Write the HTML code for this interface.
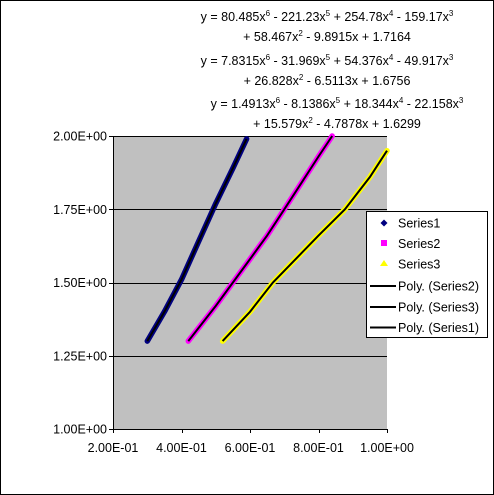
<!DOCTYPE html>
<html><head><meta charset="utf-8"><style>
body{margin:0;background:#fff}
svg{display:block;font-family:"Liberation Sans",Arial,sans-serif}
</style></head><body>
<svg width="494" height="495">
<rect x="0.5" y="0.5" width="493" height="494" fill="#fff" stroke="#000"/>
<g id="eq" font-size="12.5" fill="#000" text-anchor="middle">
<text x="327" y="21">y = 80.485x<tspan dy="-5" font-size="8">6</tspan><tspan dy="5"> - 221.23x</tspan><tspan dy="-5" font-size="8">5</tspan><tspan dy="5"> + 254.78x</tspan><tspan dy="-5" font-size="8">4</tspan><tspan dy="5"> - 159.17x</tspan><tspan dy="-5" font-size="8">3</tspan></text>
<text x="327" y="41">+ 58.467x<tspan dy="-5" font-size="8">2</tspan><tspan dy="5"> - 9.8915x + 1.7164</tspan></text>
<text x="327" y="65">y = 7.8315x<tspan dy="-5" font-size="8">6</tspan><tspan dy="5"> - 31.969x</tspan><tspan dy="-5" font-size="8">5</tspan><tspan dy="5"> + 54.376x</tspan><tspan dy="-5" font-size="8">4</tspan><tspan dy="5"> - 49.917x</tspan><tspan dy="-5" font-size="8">3</tspan></text>
<text x="327" y="85">+ 26.828x<tspan dy="-5" font-size="8">2</tspan><tspan dy="5"> - 6.5113x + 1.6756</tspan></text>
<text x="337" y="108">y = 1.4913x<tspan dy="-5" font-size="8">6</tspan><tspan dy="5"> - 8.1386x</tspan><tspan dy="-5" font-size="8">5</tspan><tspan dy="5"> + 18.344x</tspan><tspan dy="-5" font-size="8">4</tspan><tspan dy="5"> - 22.158x</tspan><tspan dy="-5" font-size="8">3</tspan></text>
<text x="337" y="128">+ 15.579x<tspan dy="-5" font-size="8">2</tspan><tspan dy="5"> - 4.7878x + 1.6299</tspan></text>
</g>
<g id="plot"></g>
<g font-size="12.5">
<rect x="366.5" y="211.5" width="121" height="126" fill="#fff" stroke="#000"/>
<path d="M384 219.5 l3.5 3.5 -3.5 3.5 -3.5 -3.5z" fill="#000080"/>
<text x="398" y="227.5">Series1</text>
<rect x="381" y="240" width="6" height="6" fill="#ff00ff"/>
<text x="398" y="248">Series2</text>
<path d="M384 260 l4 6 h-8z" fill="#ffff00"/>
<text x="398" y="268.5">Series3</text>
<line x1="370" y1="286" x2="396" y2="286" stroke="#000" stroke-width="2"/>
<text x="398" y="290.5">Poly. (Series2)</text>
<line x1="370" y1="307" x2="396" y2="307" stroke="#000" stroke-width="2"/>
<text x="398" y="311.5">Poly. (Series3)</text>
<line x1="370" y1="327.5" x2="396" y2="327.5" stroke="#000" stroke-width="2"/>
<text x="398" y="332">Poly. (Series1)</text>
</g>
</svg>
<script>
const xTicks=[0.2,0.4,0.6,0.8,1.0];
const xTickLabels=["2.00E-01","4.00E-01","6.00E-01","8.00E-01","1.00E+00"];
const yTicks=[1.0,1.25,1.5,1.75,2.0];
const yTickLabels=["1.00E+00","1.25E+00","1.50E+00","1.75E+00","2.00E+00"];
const s1x=[0.30,0.35,0.40,0.45,0.50,0.55,0.59];
const s1y=[1.30,1.40,1.51,1.64,1.77,1.89,1.99];
const s2x=[0.42,0.50,0.55,0.60,0.65,0.70,0.75,0.80,0.84];
const s2y=[1.30,1.42,1.50,1.58,1.66,1.75,1.84,1.93,2.00];
const s3x=[0.52,0.60,0.667,0.75,0.80,0.877,0.95,1.0];
const s3y=[1.30,1.40,1.50,1.60,1.66,1.75,1.86,1.95];
const X0=113,X1=387,Y0=429,Y1=136;
const sx=v=>X0+(v-0.2)/0.8*(X1-X0);
const sy=v=>Y0-(v-1)/1*(Y0-Y1);
const NS="http://www.w3.org/2000/svg";
const g=document.getElementById('plot');
function mk(t,a){const e=document.createElementNS(NS,t);for(const k in a)e.setAttribute(k,a[k]);g.appendChild(e);return e;}
const bg=mk('rect',{x:X0,y:Y1,width:X1-X0,height:Y0-Y1,fill:'#c0c0c0'});


yTicks.forEach((t,i)=>{
 if(i>0){const l=mk('line',{x1:X0,x2:X1,y1:Math.round(sy(t))+0.5,y2:Math.round(sy(t))+0.5,stroke:'#000'});
 
 }
 mk('line',{x1:X0-4,x2:X0,y1:Math.round(sy(t))+0.5,y2:Math.round(sy(t))+0.5,stroke:'#000'});
 const tx=mk('text',{x:X0-6,y:sy(t)+4.5,'font-size':12.5,'text-anchor':'end'});tx.textContent=yTickLabels[i];
 
 
});
xTicks.forEach((t,i)=>{
 mk('line',{x1:Math.round(sx(t))+0.5,x2:Math.round(sx(t))+0.5,y1:Y0,y2:Y0+4,stroke:'#000'});
 const tx=mk('text',{x:sx(t),y:Y0+23,'font-size':12.5,'text-anchor':'middle'});tx.textContent=xTickLabels[i];
 
 
});
mk('line',{x1:X0+0.5,x2:X0+0.5,y1:Y1,y2:Y0,stroke:'#000'});
mk('line',{x1:X0,x2:X1,y1:Y0+0.5,y2:Y0+0.5,stroke:'#000'});
const ser=[[s1x,s1y,'#000080','series1'],[s2x,s2y,'#ff00ff','series2'],[s3x,s3y,'#ffff00','series3']];
ser.forEach(([xs,ys,c,n])=>{
 const d=xs.map((x,i)=>(i?'L':'M')+sx(x).toFixed(1)+' '+sy(ys[i]).toFixed(1)).join(' ');
 const p=mk('path',{d:d,fill:'none',stroke:c,'stroke-width':5.5,'stroke-linecap':'round','stroke-linejoin':'round'});
 
 
 const t=mk('path',{d:d,fill:'none',stroke:'#000','stroke-width':2});
 
 
});
</script>
</body></html>
